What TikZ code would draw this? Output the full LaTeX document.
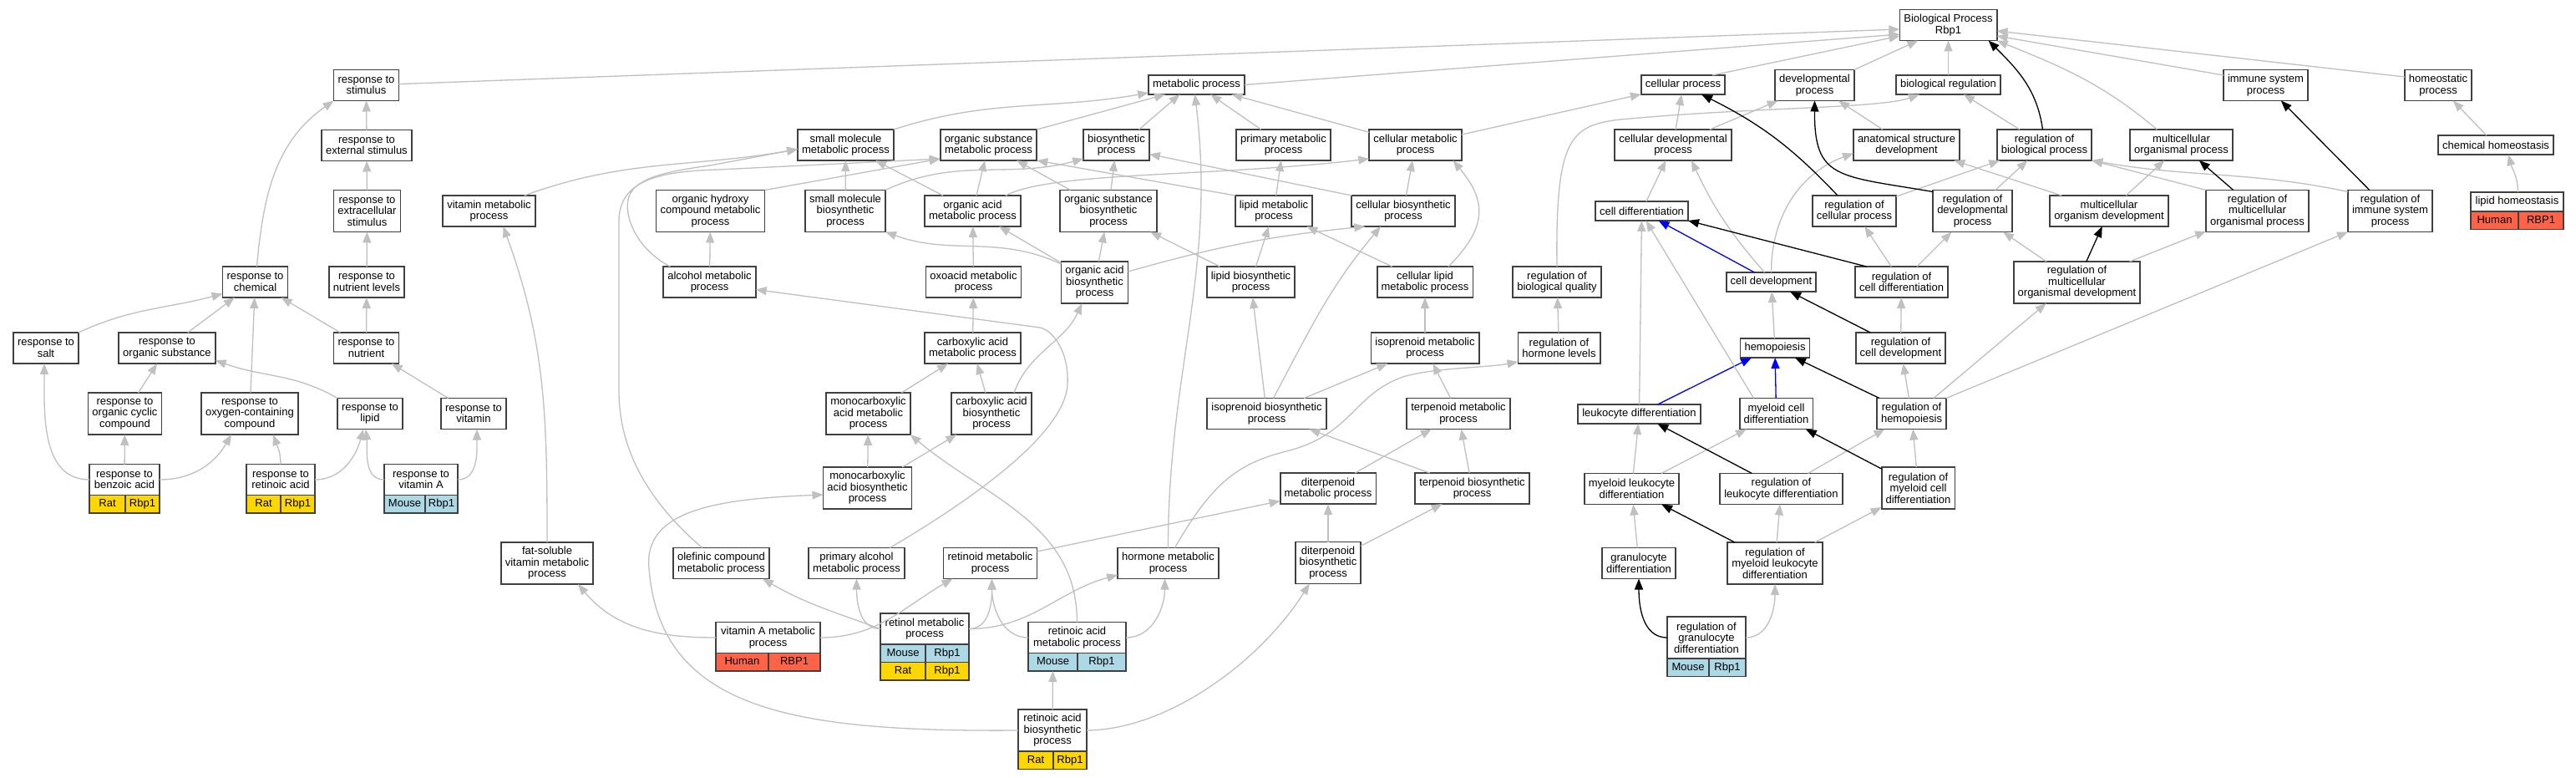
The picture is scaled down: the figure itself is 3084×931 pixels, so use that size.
\documentclass[tikz,border=0pt]{standalone}
\usepackage{fontspec}
\setmainfont{Liberation Sans}
\usepackage{tikz}
\usetikzlibrary{arrows.meta}

\definecolor{ratgold}{HTML}{FFD700}
\definecolor{mouseblue}{HTML}{ADD8E6}
\definecolor{humanred}{HTML}{FF6347}
\definecolor{edgegray}{HTML}{C0C0C0}
\definecolor{boxgray}{HTML}{404040}

\tikzset{
  term/.style={draw=boxgray, line width=1.8pt, fill=white, align=center,
    inner xsep=5pt, inner ysep=2pt, outer sep=0pt, minimum height=37pt,
    font=\fontsize{13}{13.5}\selectfont},
  one/.style={minimum height=23pt},
  three/.style={minimum height=50pt},
  spcell/.style={draw=boxgray, line width=1.8pt, minimum height=21.5pt,
    inner sep=0pt, outer sep=0pt, anchor=north west, text height=9.5pt,
    text depth=2.7pt, font=\fontsize{13}{13.5}\selectfont},
  gline/.style={draw=edgegray, line width=1.3pt, -{Triangle[length=13pt,width=10pt]}},
  kline/.style={draw=black, line width=1.3pt, -{Triangle[length=13pt,width=10pt]}},
  bline/.style={draw=blue, line width=1.3pt, -{Triangle[length=13pt,width=10pt]}}
}

\begin{document}
\begin{tikzpicture}[x=1pt, y=-1pt]
		\fill[white] (0,0) rectangle (3084,931);
		\useasboundingbox (0,0) rectangle (3084,931);
		% response to stimulus
		\node[term] (stim) at (438.5,102) {response to\\stimulus};
		\node[term] (extstim) at (439,174) {response to\\external stimulus};
		\node[term,three] (extcstim) at (439.5,252.5) {response to\\extracellular\\stimulus};
		\node[term] (chem) at (305.5,337.5) {response to\\chemical};
		\node[term] (nutlev) at (439,337.5) {response to\\nutrient levels};
		\node[term] (salt) at (55,416.5) {response to\\salt};
		\node[term] (orgsub) at (200,416.5) {response to\\organic substance};
		\node[term] (nutr) at (438.5,416.5) {response to\\nutrient};
		\node[term,three] (orgcyc) at (149.5,495) {response to\\organic cyclic\\compound};
		\node[term,three] (oxy) at (299,495) {response to\\oxygen-containing\\compound};
		\node[term] (lipid) at (443,495) {response to\\lipid};
		\node[term] (vitam) at (567,495) {response to\\vitamin};
		\node[term,minimum width=84pt] (benz) at (149,574) {response to\\benzoic acid};
		\node[term,minimum width=82pt] (retac) at (336,574) {response to\\retinoic acid};
		\node[term,minimum width=88pt] (vita) at (504,574) {response to\\vitamin A};
		\node[term] (vitmet) at (585.5,252.5) {vitamin metabolic\\process};
		\node[term,three] (fatsol) at (655,674) {fat-soluble\\vitamin metabolic\\process};
		% metabolic process
		\node[term,one] (met) at (1432.5,101.5) {metabolic process};
		\node[term] (smallmet) at (1012.5,173.5) {small molecule\\metabolic process};
		\node[term] (orgsubmet) at (1183.5,173.5) {organic substance\\metabolic process};
		\node[term] (biosyn) at (1336.5,173.5) {biosynthetic\\process};
		\node[term] (primet) at (1536.5,173.5) {primary metabolic\\process};
		\node[term] (cellmet) at (1694.5,173.5) {cellular metabolic\\process};
		\node[term,three] (hydroxy) at (850.5,252.5) {organic hydroxy\\compound metabolic\\process};
		\node[term,three] (smallbio) at (1012,252.5) {small molecule\\biosynthetic\\process};
		\node[term] (orgacid) at (1164.5,252.5) {organic acid\\metabolic process};
		\node[term,three] (orgsubbio) at (1327,252.5) {organic substance\\biosynthetic\\process};
		\node[term] (lipmet) at (1525,252.5) {lipid metabolic\\process};
		\node[term] (cellbio) at (1680,252.5) {cellular biosynthetic\\process};
		\node[term] (alcohol) at (849.5,337.5) {alcohol metabolic\\process};
		\node[term] (oxoacid) at (1165.5,337.5) {oxoacid metabolic\\process};
		\node[term,three] (orgacidbio) at (1310.5,338) {organic acid\\biosynthetic\\process};
		\node[term] (lipbio) at (1497.5,337.5) {lipid biosynthetic\\process};
		\node[term] (celllip) at (1706,337.5) {cellular lipid\\metabolic process};
		\node[term] (carbmet) at (1164.5,416.5) {carboxylic acid\\metabolic process};
		\node[term] (isomet) at (1706,416.5) {isoprenoid metabolic\\process};
		\node[term,three] (monomet) at (1039.5,495) {monocarboxylic\\acid metabolic\\process};
		\node[term,three] (carbbio) at (1187,495) {carboxylic acid\\biosynthetic\\process};
		\node[term] (isobio) at (1516.5,495) {isoprenoid biosynthetic\\process};
		\node[term] (terpmet) at (1746,495) {terpenoid metabolic\\process};
		\node[term,three] (monobio) at (1038.5,584) {monocarboxylic\\acid biosynthetic\\process};
		\node[term] (diterpmet) at (1590,584.5) {diterpenoid\\metabolic process};
		\node[term] (terpbio) at (1762.5,584.5) {terpenoid biosynthetic\\process};
		\node[term] (olefin) at (863.5,674) {olefinic compound\\metabolic process};
		\node[term] (primalc) at (1025.5,674) {primary alcohol\\metabolic process};
		\node[term] (retinoid) at (1185.5,674) {retinoid metabolic\\process};
		\node[term] (hormone) at (1398.5,674) {hormone metabolic\\process};
		\node[term,three] (diterpbio) at (1590,673.5) {diterpenoid\\biosynthetic\\process};
		\node[term,minimum width=125pt] (vitamet) at (919.5,763) {vitamin A metabolic\\process};
		\node[term,minimum width=106pt] (retinol) at (1107,752.5) {retinol metabolic\\process};
		\node[term,minimum width=117pt] (retacmet) at (1289.5,763) {retinoic acid\\metabolic process};
		\node[term,three,minimum width=82pt] (retacbio) at (1260,874) {retinoic acid\\biosynthetic\\process};
		% development and regulation
		\node[term] (bp) at (2332.5,30) {Biological Process\\Rbp1};
		\node[term,one] (cellproc) at (2015,101.5) {cellular process};
		\node[term] (devproc) at (2172.5,102) {developmental\\process};
		\node[term,one] (bioreg) at (2332.5,101.5) {biological regulation};
		\node[term] (immune) at (2712.5,102) {immune system\\process};
		\node[term] (homeo) at (2919,102) {homeostatic\\process};
		\node[term] (celldevproc) at (2003,173.5) {cellular developmental\\process};
		\node[term] (anatdev) at (2282.5,173.5) {anatomical structure\\development};
		\node[term] (regbio) at (2447.5,173.5) {regulation of\\biological process};
		\node[term] (multorg) at (2611.5,173.5) {multicellular\\organismal process};
		\node[term,one] (chemhom) at (2988,173.5) {chemical homeostasis};
		\node[term,one] (celldiff) at (1965.5,252.5) {cell differentiation};
		\node[term] (regcell) at (2220,252.5) {regulation of\\cellular process};
		\node[term,three] (regdev) at (2361.5,252.5) {regulation of\\developmental\\process};
		\node[term] (multdev) at (2525,252.5) {multicellular\\organism development};
		\node[term,three] (regmultorg) at (2702.5,252.5) {regulation of\\multicellular\\organismal process};
		\node[term,three] (regimm) at (2861.5,252.5) {regulation of\\immune system\\process};
		\node[term,one,minimum width=111pt] (liphom) at (3013.5,241.5) {lipid homeostasis};
		\node[term] (regqual) at (1864,337.5) {regulation of\\biological quality};
		\node[term,one] (celldev) at (2120.5,337.5) {cell development};
		\node[term] (regcdiff) at (2276.5,337.5) {regulation of\\cell differentiation};
		\node[term,three] (regmultdev) at (2486.5,338) {regulation of\\multicellular\\organismal development};
		\node[term] (reghorm) at (1866.5,416.5) {regulation of\\hormone levels};
		\node[term,one] (hemo) at (2125,416.5) {hemopoiesis};
		\node[term] (regcdev) at (2275.5,416.5) {regulation of\\cell development};
		\node[term,one] (leukdiff) at (1962.5,495.5) {leukocyte differentiation};
		\node[term] (myeldiff) at (2126.5,495) {myeloid cell\\differentiation};
		\node[term] (reghemo) at (2288.5,495) {regulation of\\hemopoiesis};
		\node[term] (myleukdiff) at (1953.5,585) {myeloid leukocyte\\differentiation};
		\node[term] (regleuk) at (2132.5,585) {regulation of\\leukocyte differentiation};
		\node[term,three] (regmyel) at (2296.5,584) {regulation of\\myeloid cell\\differentiation};
		\node[term] (gran) at (1962,674) {granulocyte\\differentiation};
		\node[term,three] (regmyleuk) at (2125,674) {regulation of\\myeloid leukocyte\\differentiation};
		\node[term,three,minimum width=94pt] (reggran) at (2043,763) {regulation of\\granulocyte\\differentiation};
		% species rows
		\node[spcell,fill=ratgold,minimum width=43pt] (benz-a) at (benz.south west) {Rat};
		\node[spcell,fill=ratgold,minimum width=41pt] (benz-b) at (benz-a.north east) {Rbp1};
		\node[spcell,fill=ratgold,minimum width=41pt] (retac-a) at (retac.south west) {Rat};
		\node[spcell,fill=ratgold,minimum width=41pt] (retac-b) at (retac-a.north east) {Rbp1};
		\node[spcell,fill=mouseblue,minimum width=49pt] (vita-a) at (vita.south west) {Mouse};
		\node[spcell,fill=mouseblue,minimum width=39pt] (vita-b) at (vita-a.north east) {Rbp1};
		\node[spcell,fill=humanred,minimum width=63pt] (vitamet-a) at (vitamet.south west) {Human};
		\node[spcell,fill=humanred,minimum width=62pt] (vitamet-b) at (vitamet-a.north east) {RBP1};
		\node[spcell,fill=mouseblue,minimum width=54pt] (retinol-a) at (retinol.south west) {Mouse};
		\node[spcell,fill=mouseblue,minimum width=52pt] (retinol-b) at (retinol-a.north east) {Rbp1};
		\node[spcell,fill=ratgold,minimum width=54pt] (retinol-c) at (retinol-a.south west) {Rat};
		\node[spcell,fill=ratgold,minimum width=52pt] (retinol-d) at (retinol-c.north east) {Rbp1};
		\node[spcell,fill=mouseblue,minimum width=59pt] (retacmet-a) at (retacmet.south west) {Mouse};
		\node[spcell,fill=mouseblue,minimum width=58pt] (retacmet-b) at (retacmet-a.north east) {Rbp1};
		\node[spcell,fill=ratgold,minimum width=42pt] (retacbio-a) at (retacbio.south west) {Rat};
		\node[spcell,fill=ratgold,minimum width=40pt] (retacbio-b) at (retacbio-a.north east) {Rbp1};
		\node[spcell,fill=mouseblue,minimum width=50pt] (reggran-a) at (reggran.south west) {Mouse};
		\node[spcell,fill=mouseblue,minimum width=44pt] (reggran-b) at (reggran-a.north east) {Rbp1};
		\node[spcell,fill=humanred,minimum width=57pt] (liphom-a) at (liphom.south west) {Human};
		\node[spcell,fill=humanred,minimum width=54pt] (liphom-b) at (liphom-a.north east) {RBP1};
		% edges: response to stimulus
		\draw[gline] (stim) -- ([yshift=-5pt]bp.west);
		\draw[gline] (extstim) -- (stim);
		\draw[gline] (extcstim) -- (extstim);
		\draw[gline] (nutlev) -- (extcstim);
		\draw[gline] ([xshift=2pt]chem.north) to[out=85,in=215] (stim.south west);
		\draw[gline] (salt.north east) to[out=25,in=195] ([yshift=-14pt]chem.west);
		\draw[gline] (orgsub) -- (chem);
		\draw[gline] (oxy) -- (chem);
		\draw[gline] (nutr) -- (chem);
		\draw[gline] (nutr) -- (nutlev);
		\draw[gline] (orgcyc) -- (orgsub);
		\draw[gline] (lipid.north west) to[out=150,in=-20] ([yshift=4pt]orgsub.south east);
		\draw[gline] (vitam) -- (nutr);
		\draw[gline] (benz) -- (orgcyc);
		\draw[gline] (benz.east) to[out=0,in=-120] ([xshift=-22pt]oxy.south);
		\draw[gline] (benz.west) to[out=180,in=-90] ([xshift=-2pt]salt.south);
		\draw[gline] (retac.north) to[out=90,in=-70] ([xshift=28pt]oxy.south);
		\draw[gline] (retac.east) to[out=0,in=-105] ([xshift=-8pt]lipid.south);
		\draw[gline] (vita.west) to[out=180,in=-85] ([xshift=-5pt]lipid.south);
		\draw[gline] (vita.east) to[out=0,in=-90] ([xshift=4pt]vitam.south);
		\draw[gline] ([xshift=-13pt]vitmet.north east) to[out=20,in=190] ([yshift=-5pt]smallmet.west);
		\draw[gline] (fatsol.north) to[out=90,in=-70] ([xshift=17pt]vitmet.south);
		\draw[gline] (vitamet.west) to[out=180,in=-50] ([xshift=37pt]fatsol.south);
		% edges: metabolic process
		\draw[gline] (met.east) -- ([yshift=-11pt]bp.west);
		\draw[gline] (smallmet.north east) to[out=18,in=190] ([yshift=2pt]met.south west);
		\draw[gline] (orgsubmet.north east) -- ([xshift=20pt]met.south west);
		\draw[gline] ([xshift=27pt]biosyn.north) -- ([xshift=-20pt]met.south);
		\draw[gline] (primet) -- (met);
		\draw[gline] (cellmet) -- (met);
		\draw[gline] (smallbio) -- (smallmet);
		\draw[gline] (smallbio.north east) to[out=25,in=195] ([yshift=2pt]biosyn.south west);
		\draw[gline] (orgacid) -- (smallmet);
		\draw[gline] (orgacid) -- (orgsubmet);
		\draw[gline] ([xshift=-18pt]orgacid.north east) .. controls (1260,205) and (1450,212) .. ([yshift=2pt]cellmet.south west);
		\draw[gline] (orgsubbio) -- (orgsubmet);
		\draw[gline] (orgsubbio) -- (biosyn);
		\draw[gline] (lipmet.north west) -- (orgsubmet.south east);
		\draw[gline] (lipmet) -- (primet);
		\draw[gline] (cellbio.north west) -- ([yshift=-11pt]biosyn.east);
		\draw[gline] (cellbio) -- (cellmet);
		\draw[gline] (hydroxy.north east) -- ([yshift=2pt]orgsubmet.south west);
		\draw[gline] (alcohol) -- (hydroxy);
		\draw[gline] ([xshift=8pt]alcohol.north west) .. controls (765,300) and (745,260) .. (753,235) .. controls (762,212) and (800,205) .. (850,198) -- ([yshift=-5pt]smallmet.west);
		\draw[gline] ([xshift=-23pt]olefin.north) .. controls (800,620) and (742,560) .. (741,470) -- (741,265) .. controls (741,215) and (790,205) .. (860,203) -- ([yshift=2pt]orgsubmet.south west);
		\draw[gline] (oxoacid) -- (orgacid);
		\draw[gline] (carbmet) -- (oxoacid);
		\draw[gline] (orgacidbio) -- (orgacid);
		\draw[gline] (orgacidbio) -- (orgsubbio);
		\draw[gline] ([yshift=-3pt]orgacidbio.north west) to[out=155,in=-20] (smallbio.south east);
		\draw[gline] ([yshift=13pt]orgacidbio.east) to[bend left=5] ([xshift=16pt]cellbio.south west);
		\draw[gline] (lipbio) -- (lipmet);
		\draw[gline] (lipbio) -- (orgsubbio);
		\draw[gline] (hormone.north) to[out=90,in=-83] ([xshift=-2pt]met.south);
		\draw[gline] ([xshift=40pt]primalc.north) .. controls (1160,600) and (1275,520) .. (1278,460) .. controls (1280,420) and (1260,395) .. (1245,392) -- ([yshift=-9pt]alcohol.east);
		\draw[gline] ([xshift=27pt]carbbio.north) to[out=70,in=-115] ([xshift=-15pt]orgacidbio.south);
		\draw[gline] (monomet) -- (carbmet);
		\draw[gline] (carbbio) -- (carbmet);
		\draw[gline] (isobio) -- (lipbio);
		\draw[gline] ([xshift=8pt]isobio.north) to[out=62,in=-130] ([xshift=-27pt]cellbio.south);
		\draw[gline] (isobio) -- (isomet);
		\draw[gline] (terpmet) -- (isomet);
		\draw[gline] (isomet) -- (celllip);
		\draw[gline] ([xshift=28pt]celllip.north) to[out=45,in=-50,looseness=1.3] ([xshift=45pt]cellmet.south);
		\draw[gline] (celllip) -- (lipmet);
		\draw[gline] (terpbio) -- (isobio);
		\draw[gline] (terpbio) -- (terpmet);
		\draw[gline] (diterpmet) -- (terpmet);
		\draw[gline] (diterpbio) -- (diterpmet);
		\draw[gline] (diterpbio) -- (terpbio);
		\draw[gline] (monobio) -- (monomet);
		\draw[gline] (monobio) -- (carbbio);
		\draw[gline] ([yshift=14pt]retinoid.east) -- ([yshift=-15pt]diterpmet.west);
		\draw[gline] ([xshift=8pt]hormone.north) .. controls (1450,580) and (1480,555) .. (1540,540) .. controls (1620,520) and (1620,470) .. (1683,450) .. controls (1720,440) and (1780,440) .. ([yshift=2pt]reghorm.south west);
		\draw[gline] (retinol.west) to[out=160,in=-30] ([xshift=-8pt]olefin.south east);
		\draw[gline] (retinol.west) to[out=180,in=-90] (primalc.south);
		\draw[gline] (vitamet.east) to[out=0,in=-150] ([xshift=11pt]retinoid.south west);
		\draw[gline] (retinol.east) to[out=0,in=-90] ([xshift=2pt]retinoid.south);
		\draw[gline] (retacmet.west) to[out=180,in=-90] ([xshift=2pt]retinoid.south);
		\draw[gline] (retinol.east) to[out=0,in=195] ([yshift=-14pt]hormone.west);
		\draw[gline] (retacmet.east) to[out=0,in=-90] ([xshift=-4pt]hormone.south);
		\draw[gline] (retacmet.north) to[out=90,in=-40] (monomet.south east);
		\draw[gline] (retacbio) -- (retacmet-a);
		\draw[gline] (retacbio.west) .. controls (950,876) and (790,850) .. (777,680) .. controls (770,610) and (860,597) .. ([yshift=-8pt]monobio.west);
		\draw[gline] (retacbio.east) .. controls (1400,873) and (1510,790) .. ([xshift=17pt]diterpbio.south west);
		% edges: development and regulation
		\draw[gline] (cellmet) -- (cellproc);
		\draw[gline] ([xshift=-15pt]cellproc.north east) -- ([yshift=-13pt]bp.west);
		\draw[gline] (devproc.north east) -- ([xshift=22pt]bp.south west);
		\draw[gline] (bioreg) -- (bp);
		\draw[gline] (celldevproc) -- (cellproc);
		\draw[gline] (celldevproc) -- (devproc);
		\draw[gline] (anatdev) -- (devproc);
		\draw[gline] (regqual.north) .. controls (1862,165) and (1880,150) .. (1940,143) .. controls (2100,128) and (2250,130) .. ([xshift=28pt]bioreg.south west);
		\draw[gline] (reghorm) -- (regqual);
		\draw[gline] (celldiff) -- (celldevproc);
		\draw[gline] ([xshift=-8pt]celldev.north) to[bend left=8] ([xshift=22pt]celldevproc.south);
		\draw[bline] ([xshift=-20pt]celldev.north) -- ([xshift=20pt]celldiff.south);
		\draw[gline] (celldev.north) to[out=90,in=200] ([yshift=-10pt]anatdev.west);
		\draw[kline] ([xshift=-20pt]regcell.north) to[bend right=10] ([xshift=22pt]cellproc.south);
		\draw[gline] (regcell) -- (regbio);
		\draw[kline] ([yshift=-2pt]regdev.north west) .. controls (2200,210) and (2172,215) .. (devproc.south);
		\draw[gline] (regdev) -- (regbio);
		\draw[kline] ([xshift=-42pt]regcdiff.north) -- (celldiff.south east);
		\draw[gline] (regcdiff) -- (regcell);
		\draw[gline] (regcdiff) -- (regdev);
		\draw[kline] (regcdev) -- (celldev);
		\draw[gline] (regcdev) -- (regcdiff);
		\draw[gline] (hemo) -- (celldev);
		\draw[gline] (leukdiff) -- (celldiff);
		\draw[bline] ([xshift=22pt]leukdiff.north) -- ([xshift=-28pt]hemo.south);
		\draw[gline] ([xshift=-27pt]myeldiff.north) -- ([xshift=5pt]celldiff.south);
		\draw[bline] (myeldiff) -- (hemo);
		\draw[kline] (reghemo) -- (hemo);
		\draw[gline] (reghemo) -- (regcdev);
		\draw[gline] ([xshift=-15pt]reghemo.north east) -- ([xshift=39pt]regmultdev.south west);
		\draw[gline] (reghemo.north east) -- (regimm.south west);
		\draw[gline] (myleukdiff) -- (leukdiff);
		\draw[gline] (myleukdiff) -- (myeldiff);
		\draw[kline] (regleuk) -- (leukdiff);
		\draw[gline] (regleuk) -- (reghemo);
		\draw[kline] (regmyel) -- (myeldiff);
		\draw[gline] (regmyel) -- (reghemo);
		\draw[gline] (gran) -- (myleukdiff);
		\draw[kline] (regmyleuk) -- (myleukdiff);
		\draw[gline] (regmyleuk) -- (regleuk);
		\draw[gline] (regmyleuk) -- (regmyel);
		\draw[kline] (reggran.west) to[out=180,in=-90] (gran.south);
		\draw[gline] (reggran.east) to[out=0,in=-90] (regmyleuk.south);
		\draw[kline] ([xshift=-2pt]regbio.north) to[out=98,in=-45] ([xshift=-10pt]bp.south east);
		\draw[gline] (regbio) -- (bioreg);
		\draw[gline] ([xshift=-29pt]multorg.north) to[out=140,in=-22] (bp.south east);
		\draw[gline] ([yshift=12pt]immune.west) -- ([yshift=-13pt]bp.east);
		\draw[gline] ([yshift=10pt]homeo.west) -- ([yshift=-7pt]bp.east);
		\draw[gline] (chemhom) -- (homeo);
		\draw[gline] ([xshift=1pt]liphom.north) to[out=90,in=-75] ([xshift=15pt]chemhom.south);
		\draw[kline] (regimm) -- (immune);
		\draw[gline] ([yshift=-2pt]regimm.north west) to[out=168,in=-10] (regbio.south east);
		\draw[kline] (regmultorg) -- (multorg);
		\draw[gline] (regmultorg.north west) -- (regbio.south east);
		\draw[gline] (multdev) -- (multorg);
		\draw[gline] (multdev) -- (anatdev);
		\draw[kline] (regmultdev) -- (multdev);
		\draw[gline] (regmultdev) -- (regmultorg);
		\draw[gline] (regmultdev) -- (regdev);
	\end{tikzpicture}
\end{document}
